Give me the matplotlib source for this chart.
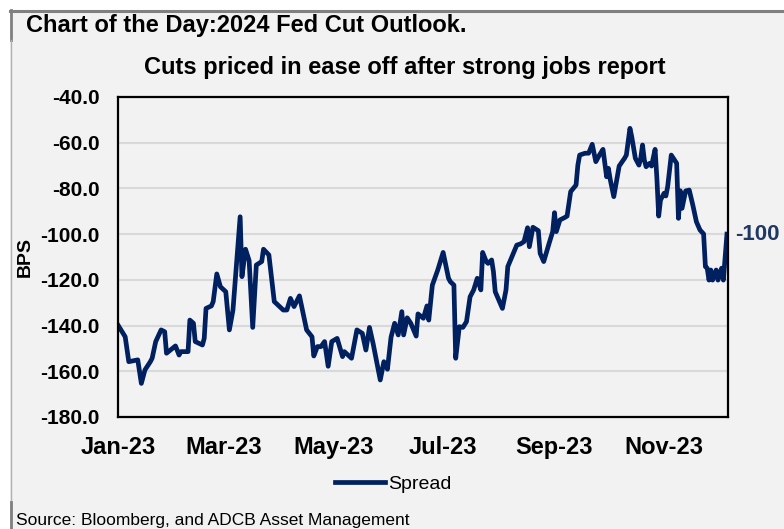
import pandas as pd
import matplotlib.pyplot as plt
import matplotlib.dates as mdates
from matplotlib.patches import Rectangle
from matplotlib.lines import Line2D

plt.rcParams['font.family'] = ['Liberation Sans', 'DejaVu Sans']

dates = [
    "2023-01-01", "2023-01-05", "2023-01-07", "2023-01-12", "2023-01-14", "2023-01-16",
    "2023-01-19", "2023-01-20", "2023-01-22", "2023-01-25", "2023-01-27", "2023-01-28",
    "2023-02-02", "2023-02-04", "2023-02-05", "2023-02-09", "2023-02-10", "2023-02-12",
    "2023-02-13", "2023-02-17", "2023-02-18", "2023-02-19", "2023-02-22", "2023-02-23",
    "2023-02-25", "2023-02-27", "2023-03-02", "2023-03-04", "2023-03-06", "2023-03-10",
    "2023-03-11", "2023-03-13", "2023-03-15", "2023-03-17", "2023-03-19", "2023-03-22",
    "2023-03-23", "2023-03-26", "2023-03-29", "2023-03-31", "2023-04-03", "2023-04-05",
    "2023-04-07", "2023-04-09", "2023-04-12", "2023-04-16", "2023-04-19", "2023-04-20",
    "2023-04-22", "2023-04-24", "2023-04-26", "2023-04-28", "2023-04-30", "2023-05-03",
    "2023-05-06", "2023-05-07", "2023-05-11", "2023-05-14", "2023-05-17", "2023-05-19",
    "2023-05-21", "2023-05-23", "2023-05-27", "2023-05-29", "2023-05-31", "2023-06-02",
    "2023-06-04", "2023-06-06", "2023-06-08", "2023-06-09", "2023-06-11", "2023-06-13",
    "2023-06-16", "2023-06-17", "2023-06-20", "2023-06-22", "2023-06-23", "2023-06-25",
    "2023-06-28", "2023-07-01", "2023-07-04", "2023-07-05", "2023-07-07", "2023-07-08",
    "2023-07-10", "2023-07-12", "2023-07-14", "2023-07-16", "2023-07-18", "2023-07-20",
    "2023-07-22", "2023-07-23", "2023-07-25", "2023-07-26", "2023-07-28", "2023-07-29",
    "2023-07-30", "2023-08-03", "2023-08-05", "2023-08-06", "2023-08-11", "2023-08-13",
    "2023-08-15", "2023-08-17", "2023-08-18", "2023-08-20", "2023-08-23", "2023-08-24",
    "2023-08-26", "2023-08-29", "2023-08-31", "2023-09-01", "2023-09-02", "2023-09-04",
    "2023-09-07", "2023-09-08", "2023-09-10", "2023-09-13", "2023-09-14", "2023-09-15",
    "2023-09-18", "2023-09-20", "2023-09-22", "2023-09-24", "2023-09-26", "2023-09-28",
    "2023-09-30", "2023-10-01", "2023-10-02", "2023-10-04", "2023-10-07", "2023-10-10",
    "2023-10-11", "2023-10-13", "2023-10-14", "2023-10-16", "2023-10-18", "2023-10-19",
    "2023-10-20", "2023-10-21", "2023-10-22", "2023-10-24", "2023-10-25", "2023-10-27",
    "2023-10-28", "2023-10-29", "2023-10-30", "2023-11-01", "2023-11-02", "2023-11-03",
    "2023-11-05", "2023-11-08", "2023-11-09", "2023-11-10", "2023-11-11", "2023-11-13",
    "2023-11-15", "2023-11-17", "2023-11-19", "2023-11-21", "2023-11-23", "2023-11-24",
    "2023-11-25", "2023-11-26", "2023-11-27", "2023-11-28", "2023-11-30", "2023-12-01",
    "2023-12-03", "2023-12-04", "2023-12-06",
]
spread = [
    -139.8, -144.9, -155.8, -155.0, -165.3, -159.4,
    -155.8, -154.3, -147.0, -141.9, -142.7, -152.1,
    -148.9, -152.9, -151.4, -151.4, -137.6, -139.0,
    -147.0, -148.5, -145.6, -132.5, -131.4, -129.5,
    -117.4, -123.0, -125.2, -141.9, -133.2, -92.4,
    -118.6, -106.6, -111.6, -140.8, -113.5, -112.0,
    -106.6, -109.1, -129.5, -131.0, -133.2, -133.2,
    -128.1, -131.7, -127.0, -141.9, -144.9, -153.3,
    -149.2, -149.2, -147.0, -157.8, -147.0, -145.6,
    -153.6, -151.4, -154.3, -141.9, -143.4, -150.7,
    -140.8, -147.8, -163.8, -155.8, -159.1, -145.1,
    -139.0, -144.1, -133.9, -144.1, -136.6, -139.0,
    -144.6, -134.9, -136.8, -131.4, -137.6, -122.3,
    -115.7, -108.0, -119.3, -120.8, -122.3, -154.3,
    -140.5, -140.8, -138.3, -127.4, -124.4, -119.3,
    -124.4, -108.0, -112.0, -112.8, -111.3, -116.4,
    -125.2, -132.5, -124.4, -114.2, -104.8, -104.3,
    -103.3, -97.2, -105.5, -97.0, -98.5, -108.4,
    -112.0, -104.0, -98.9, -90.6, -98.9, -93.8,
    -92.6, -92.1, -81.4, -78.5, -69.8, -65.4,
    -64.6, -64.6, -60.7, -68.3, -65.4, -62.9,
    -74.9, -71.2, -76.0, -83.6, -70.2, -66.8,
    -65.4, -53.7, -57.4, -66.8, -69.8, -66.8,
    -61.0, -67.6, -70.5, -69.0, -70.2, -62.9,
    -75.6, -92.1, -85.1, -82.1, -83.3, -79.2,
    -65.4, -69.0, -93.1, -81.0, -88.7, -81.1,
    -80.7, -87.3, -94.6, -98.2, -99.9, -114.2,
    -114.9, -120.1, -115.7, -120.1, -115.7, -120.1,
    -114.9, -120.1, -100.0,
]
tick_dates = ["2023-01-01", "2023-03-01", "2023-05-01", "2023-07-01", "2023-09-01", "2023-11-01"]
y_ticks = [-40, -60, -80, -100, -120, -140, -160, -180]

navy = "#002060"
bg = "#f2f2f2"
W, H = 784, 529

x = pd.to_datetime(dates)

fig = plt.figure(figsize=(W / 100, H / 100), dpi=100, facecolor="white")
fig.patches.append(Rectangle((10 / W, 0), 1, 1 - 10 / H, transform=fig.transFigure,
                             facecolor=bg, edgecolor="none", zorder=-5))
fig.add_artist(Line2D([10 / W, 1], [1 - 11 / H] * 2, color="#808080", lw=2.2))
fig.add_artist(Line2D([11 / W] * 2, [1 - 10 / H, 1 - 40 / H], color="#808080", lw=2))
fig.add_artist(Line2D([11 / W] * 2, [0, 1 - 40 / H], color="#b0b0b0", lw=1))
fig.add_artist(Line2D([11 / W] * 2, [0, 1 - 502 / H], color="#808080", lw=2))

ax = fig.add_axes([118 / W, 1 - 417 / H, 610 / W, 320 / H])
ax.set_facecolor(bg)
ax.plot(x, spread, color=navy, lw=3.4, label="Spread", solid_joinstyle="round")

ax.set_ylim(-180, -40)
ax.set_yticks(y_ticks)
ax.set_yticklabels([f"{v:.1f}" for v in y_ticks])
ax.set_xlim(pd.Timestamp("2023-01-01"), pd.Timestamp("2023-12-06 14:00"))
ax.set_xticks(pd.to_datetime(tick_dates))
ax.xaxis.set_major_formatter(mdates.DateFormatter("%b-%y"))
ax.grid(axis="y", color="#d9d9d9", lw=1.5)
ax.set_axisbelow(True)
ax.tick_params(axis="y", length=0, labelsize=15, pad=13)
ax.tick_params(axis="x", length=0, labelsize=17, pad=14)
for lbl in ax.get_xticklabels() + ax.get_yticklabels():
    lbl.set_fontweight("bold")
for s in ax.spines.values():
    s.set_linewidth(1.6)
    s.set_color("black")

ax.set_ylabel("BPS", fontsize=14, fontweight="bold")
ax.yaxis.set_label_coords((34 - 118) / 610, 0.5)

ax.annotate(f"{spread[-1]:.0f}", xy=(x[-1], spread[-1]), xytext=(6, 0), textcoords="offset points",
            va="center", ha="left", fontsize=16, fontweight="bold", color="#1f3864",
            annotation_clip=False)

fig.text(26 / W, 1 - 32 / H, "Chart of the Day:2024 Fed Cut Outlook.", fontsize=17,
         fontweight="bold", va="baseline", ha="left")
fig.text(405 / W, 1 - 74 / H, "Cuts priced in ease off after strong jobs report", fontsize=17,
         fontweight="bold", va="baseline", ha="center")
fig.text(16 / W, 1 - 525 / H, "Source: Bloomberg, and ADCB Asset Management", fontsize=12.5,
         va="baseline", ha="left")

fig.legend(loc="center", bbox_to_anchor=(393 / W, 1 - 484 / H), frameon=False,
           fontsize=14, handlelength=2.6, handletextpad=0.15)

fig.savefig("out.png", dpi=100, facecolor=fig.get_facecolor())
